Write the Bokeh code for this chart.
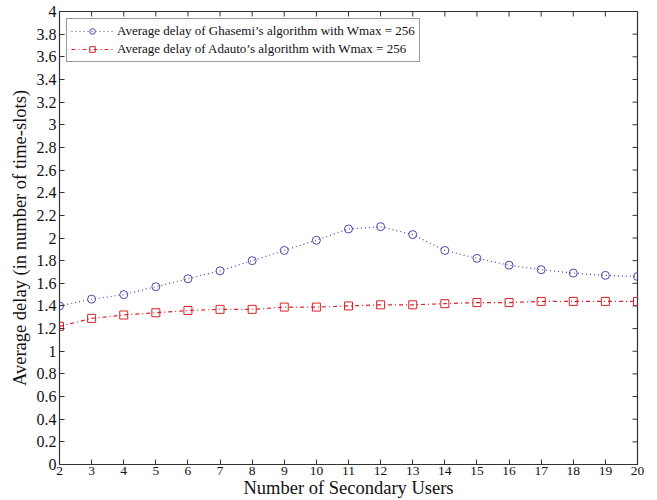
from bokeh.plotting import figure
from bokeh.models import (FixedTicker, CustomJSTickFormatter, Legend, LegendItem, Range1d)
from bokeh.embed import file_html
from bokeh.resources import INLINE
import math

users = [2, 3, 4, 5, 6, 7, 8, 9, 10, 11, 12, 13, 14, 15, 16, 17, 18, 19, 20]
ghasemi_delay = [1.40, 1.46, 1.50, 1.57, 1.64, 1.71, 1.80, 1.89, 1.98, 2.08,
                 2.10, 2.03, 1.89, 1.82, 1.76, 1.72, 1.69, 1.67, 1.66]
adauto_delay = [1.22, 1.29, 1.32, 1.34, 1.36, 1.37, 1.37, 1.39, 1.39, 1.40,
                1.41, 1.41, 1.42, 1.43, 1.43, 1.44, 1.44, 1.44, 1.44]
x_ticks = list(range(2, 21))
y_ticks = [round(i * 0.2, 1) for i in range(0, 21)]
label_ghasemi = "Average delay of Ghasemi\u2019s algorithm with Wmax = 256"
label_adauto = "Average delay of Adauto\u2019s algorithm with Wmax = 256"

FONT = "Liberation Serif"
X_MIN, X_MAX, Y_MIN, Y_MAX = 2, 20, 0, 4

p = figure(width=657, height=500, output_backend="svg", toolbar_location=None,
           x_range=Range1d(X_MIN, X_MAX), y_range=Range1d(Y_MIN, Y_MAX),
           min_border_left=59, min_border_right=20, min_border_top=11, min_border_bottom=35)
p.background_fill_color = "white"
p.border_fill_color = "white"
p.outline_line_color = "#333333"
p.outline_line_width = 1.2
p.grid.visible = False

fmt = CustomJSTickFormatter(code="return Number(tick.toFixed(1)).toString();")

for ax in (p.xaxis[0], p.yaxis[0]):
    ax.major_tick_in = 5
    ax.major_tick_out = 0
    ax.minor_tick_in = 0
    ax.minor_tick_out = 0
    ax.axis_line_color = "#333333"
    ax.major_tick_line_color = "#333333"
    ax.major_label_text_font = FONT
    ax.major_label_text_color = "#111111"
    ax.axis_label_text_font = FONT
    ax.axis_label_text_font_size = "18.5px"
    ax.axis_label_text_font_style = "normal"
    ax.axis_label_text_color = "#111111"
    ax.formatter = fmt

p.xaxis[0].major_label_text_font_size = "13.5px"
p.yaxis[0].major_label_text_font_size = "16px"
p.xaxis[0].ticker = FixedTicker(ticks=x_ticks)
p.yaxis[0].ticker = FixedTicker(ticks=y_ticks)
p.xaxis[0].axis_label = "Number of Secondary Users"
p.yaxis[0].axis_label = "Average delay (in number of time-slots)"
p.xaxis[0].major_label_standoff = 2
p.yaxis[0].major_label_standoff = 3
p.xaxis[0].axis_label_standoff = 0
p.yaxis[0].axis_label_standoff = 4

# mirrored tick marks on top and right edges (box style), half clipped by the frame
p.scatter(x_ticks, [Y_MAX] * len(x_ticks), marker="dash", angle=math.pi / 2,
          size=10, line_color="#333333", line_width=1)
p.scatter([X_MAX] * len(y_ticks), y_ticks, marker="dash",
          size=10, line_color="#333333", line_width=1)

blue = "#4848aa"
red = "#e0202a"

g_line = p.line(users, ghasemi_delay, line_color=blue, line_width=1.2, line_dash="1 3")
g_pts = p.scatter(users, ghasemi_delay, marker="circle", size=8, fill_color=None,
                  line_color=blue, line_width=1)
a_line = p.line(users, adauto_delay, line_color=red, line_width=1.2, line_dash="4 3 1 3")
a_pts = p.scatter(users, adauto_delay, marker="square", size=8, fill_color=None,
                  line_color=red, line_width=1)

legend = Legend(items=[LegendItem(label=label_ghasemi, renderers=[g_line, g_pts]),
                       LegendItem(label=label_adauto, renderers=[a_line, a_pts])],
                location="top_left", label_text_font=FONT, label_text_font_size="13px",
                label_text_color="#111111", border_line_color="#333333",
                border_line_width=1, glyph_width=42, glyph_height=14,
                label_height=14, spacing=2, padding=4, margin=7,
                label_standoff=4)
p.add_layout(legend)

open("out.html", "w").write(file_html(p, INLINE))
